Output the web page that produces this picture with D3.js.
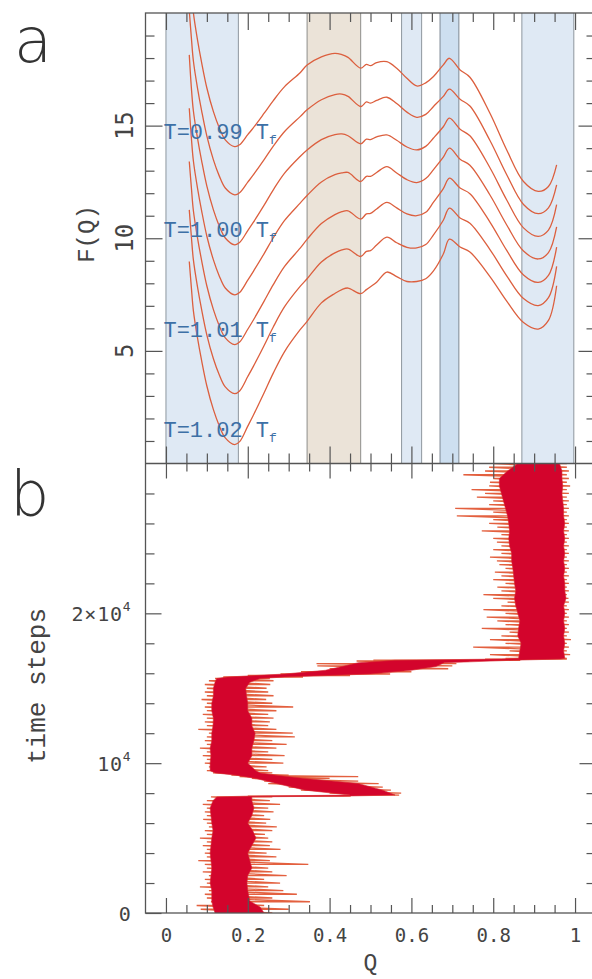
<!DOCTYPE html>
<html><head><meta charset="utf-8">
<script src="https://cdn.jsdelivr.net/npm/d3@7/dist/d3.min.js"></script>
<style>body{margin:0;background:#fff}svg{display:block}</style>
</head><body>
<svg id="chart" width="592" height="979"></svg>
<script>
// ---------- DATA ----------
// Panel a: free energy profiles F(Q), 7 temperatures (top to bottom)
const curveTemps = [0.99, 0.995, 1.00, 1.005, 1.01, 1.015, 1.02];
const labeledTemps = ["0.99", "1.00", "1.01", "1.02"];
const qGrid = [0.057,0.062,0.067,0.077,0.087,0.1,0.116,0.13,0.145,0.168,
  0.18,0.2,0.213,0.24,0.262,0.29,0.328,
  0.345,0.38,0.413,0.43,0.445,0.476,
  0.49,0.5,0.515,0.54,0.564,0.589,0.613,
  0.635,0.654,0.678,0.693,0.719,
  0.743,0.792,0.833,0.874,0.91,0.935,0.955];
const F_099 = [22.3,21.07,20.02,18.82,17.82,16.67,15.62,14.92,14.37,14.07,
  14.15,14.6,14.89,15.55,16.1,16.73,17.35,
  17.69,18.05,18.21,18.15,18.03,17.55,
  17.72,17.66,17.8,17.84,17.55,17.1,16.76,
  16.9,17.18,17.7,17.99,17.47,
  17.15,15.55,13.92,12.52,12.08,12.3,13.26];
const F_0995 = [20.1,18.93,17.88,16.68,15.68,14.53,13.48,12.78,12.23,11.93,
  12.02,12.49,12.8,13.49,14.08,14.74,15.4,
  15.7,16.15,16.38,16.4,16.3,15.85,
  16.05,16.0,16.12,16.26,15.98,15.6,15.37,
  15.5,15.85,16.3,16.62,16.17,
  15.87,14.34,12.82,11.5,11.09,11.35,12.37];
const F_100 = [18.14,16.71,15.66,14.46,13.46,12.31,11.26,10.56,10.01,9.71,
  9.81,10.34,10.69,11.47,12.14,12.89,13.63,
  13.92,14.38,14.6,14.63,14.55,14.19,
  14.4,14.38,14.5,14.59,14.35,14.05,13.92,
  14.08,14.45,14.95,15.33,14.84,
  14.55,13.13,11.7,10.46,10.08,10.36,11.49];
const F_1005 = [15.77,14.49,13.44,12.24,11.24,10.09,9.04,8.34,7.79,7.49,
  7.59,8.14,8.51,9.32,10.01,10.79,11.56,
  11.9,12.5,12.82,12.9,12.92,12.52,
  12.75,12.75,12.92,13.18,12.9,12.6,12.47,
  12.65,13.05,13.6,14.0,13.51,
  13.24,11.92,10.59,9.43,9.08,9.36,10.5];
const F_101 = [13.41,12.28,11.23,10.03,9.03,7.88,6.83,6.13,5.58,5.28,
  5.39,5.96,6.35,7.21,7.93,8.75,9.56,
  9.95,10.65,11.05,11.18,11.22,10.85,
  11.08,11.1,11.3,11.59,11.35,11.08,11.0,
  11.15,11.6,12.2,12.67,12.23,
  11.98,10.72,9.46,8.37,8.04,8.35,9.61];
const F_1015 = [11.26,10.1,9.05,7.85,6.85,5.7,4.65,3.95,3.4,3.1,
  3.22,3.86,4.29,5.24,6.05,6.96,7.86,
  8.2,8.95,9.35,9.48,9.52,9.19,
  9.42,9.45,9.7,10.05,9.8,9.6,9.57,
  9.72,10.15,10.8,11.34,10.9,
  10.67,9.5,8.33,7.32,7.01,7.36,8.75];
const F_102 = [8.97,7.84,6.79,5.59,4.59,3.44,2.39,1.69,1.14,0.84,
  0.97,1.66,2.12,3.14,4.0,4.97,5.94,
  6.31,7.13,7.55,7.72,7.79,7.54,
  7.72,7.85,8.05,8.5,8.3,8.08,8.08,
  8.2,8.55,9.3,9.96,9.61,
  9.39,8.3,7.21,6.26,5.97,6.35,7.89];
// shaded Q ranges
const blueBands = [[0, 0.177], [0.576, 0.625], [0.87, 0.997]];
const darkBlueBands = [[0.67, 0.716]];
const beigeBands = [[0.345, 0.476]];

// Panel b: trajectory extremes Q per time row (left / right excursions)
const trajT = [0,250,500,750,1000,1250,1500,1750,2000,2250,2500,2750,3000,3250,3500,3750,4000,4250,4500,4750,
  5000,5250,5500,5750,6000,6250,6500,6750,7000,7250,7500,7750,
  7800,7870,8000,8200,8400,8640,8800,8980,9100,9200,9350,
  9500,9750,10000,10250,10500,10750,11000,11250,11500,11750,12000,12250,12500,12750,13000,13250,13500,13750,
  14000,14250,14500,14750,15000,15250,15500,15650,
  15750,15850,15950,16100,16300,16500,16650,16820,16870,16950,
  17000,17250,17500,17750,18000,18250,18500,18750,19000,19250,19500,19750,20000,20250,20500,20750,21000,21250,
  21500,21750,22000,22250,22500,22750,23000,23250,23500,23750,24000,24250,24500,24750,25000,25250,25500,25750,
  26000,26250,26500,26750,27000,27250,27500,27750,28000,28250,28500,28750,29000,29250,29500,29750,30000];
const trajLo = [0.13,0.085,0.075,0.11,0.1,0.095,0.105,0.083,0.1,0.095,0.105,0.09,0.1,0.095,0.079,0.1,0.095,0.1,0.09,0.1,
  0.083,0.1,0.095,0.105,0.1,0.091,0.1,0.095,0.1,0.09,0.1,0.11,
  0.2,0.45,0.4,0.33,0.3,0.25,0.24,0.21,0.18,0.16,0.115,
  0.1,0.105,0.095,0.1,0.09,0.1,0.083,0.1,0.095,0.1,0.105,0.079,0.1,0.095,0.1,0.09,0.1,0.095,
  0.1,0.087,0.1,0.095,0.1,0.095,0.105,0.12,
  0.14,0.2,0.28,0.33,0.4,0.37,0.368,0.466,0.507,0.78,
  0.83,0.792,0.84,0.751,0.83,0.792,0.82,0.84,0.772,0.83,0.81,0.784,0.83,0.776,0.82,0.835,0.8,0.776,
  0.82,0.81,0.83,0.8,0.82,0.804,0.83,0.815,0.809,0.792,0.82,0.8,0.82,0.809,0.8,0.82,0.772,0.81,
  0.79,0.8,0.711,0.8,0.707,0.79,0.8,0.76,0.78,0.747,0.79,0.792,0.8,0.727,0.78,0.79,0.8];
const trajHi = [0.26,0.3,0.24,0.352,0.26,0.32,0.287,0.25,0.279,0.24,0.295,0.26,0.25,0.348,0.254,0.27,0.246,0.28,0.254,0.26,
  0.25,0.242,0.26,0.271,0.245,0.255,0.24,0.263,0.25,0.279,0.254,0.26,
  0.45,0.57,0.575,0.55,0.53,0.52,0.47,0.4,0.47,0.3,0.26,
  0.25,0.246,0.287,0.26,0.29,0.25,0.27,0.295,0.26,0.315,0.31,0.27,0.25,0.254,0.263,0.25,0.27,0.311,
  0.26,0.245,0.263,0.25,0.246,0.255,0.263,0.254,
  0.335,0.45,0.548,0.6,0.69,0.7,0.71,0.74,0.866,0.98,
  0.98,0.988,0.98,0.985,0.98,0.99,0.98,0.985,0.98,0.985,0.98,0.985,0.98,0.985,0.98,0.985,0.984,0.98,
  0.985,0.98,0.985,0.98,0.985,0.98,0.985,0.98,0.985,0.98,0.985,0.98,0.985,0.98,0.985,0.98,0.985,0.98,
  0.985,0.98,0.985,0.98,0.985,0.98,0.985,0.98,0.985,0.98,0.988,0.98,0.985,0.98,0.985,0.98,0.98];
// dense core envelope of the trajectory
const coreT = [0,400,800,1500,2000,2500,3000,3500,4000,4500,5000,5500,6000,6500,7000,7500,7750,
  7800,7870,8200,8640,8980,9200,9350,
  9500,10000,10500,11000,11500,12000,12500,13000,13500,14000,14500,15000,15400,15650,
  15750,15950,16200,16450,16700,16870,16950,
  17000,17500,18000,18500,19000,19500,20000,20500,21000,21500,22000,22500,23000,23500,24000,24500,25000,25500,26000,26500,27000,27500,28000,28500,29000,29500,30000];
const coreLo = [0.12,0.115,0.112,0.112,0.108,0.11,0.112,0.11,0.108,0.11,0.112,0.115,0.112,0.11,0.108,0.115,0.124,
  0.2,0.45,0.34,0.27,0.22,0.17,0.12,
  0.108,0.108,0.11,0.108,0.112,0.112,0.115,0.116,0.112,0.112,0.116,0.116,0.12,0.124,
  0.15,0.29,0.39,0.43,0.47,0.56,0.82,
  0.862,0.865,0.868,0.86,0.862,0.865,0.86,0.855,0.852,0.855,0.852,0.85,0.848,0.845,0.845,0.84,0.838,0.84,0.838,0.835,0.83,0.825,0.82,0.815,0.815,0.835,0.86];
const coreHi = [0.24,0.23,0.205,0.2,0.198,0.2,0.21,0.205,0.2,0.21,0.22,0.212,0.2,0.21,0.215,0.21,0.21,
  0.43,0.56,0.53,0.47,0.34,0.27,0.23,
  0.22,0.2,0.21,0.21,0.215,0.218,0.21,0.21,0.2,0.2,0.197,0.195,0.205,0.23,
  0.29,0.5,0.6,0.66,0.68,0.85,0.965,
  0.975,0.972,0.975,0.972,0.975,0.972,0.975,0.972,0.978,0.975,0.975,0.972,0.975,0.972,0.975,0.972,0.975,0.972,0.975,0.972,0.972,0.97,0.968,0.97,0.968,0.968,0.962];

// axis ticks / labels
const fMajor = [5, 10, 15];
const qMajor = [0, 0.2, 0.4, 0.6, 0.8, 1];
const qLabels = ["0", "0.2", "0.4", "0.6", "0.8", "1"];
const tMajor = [0, 10000, 20000];
const tLabels = [["0", ""], ["10", "4"], ["2×10", "4"]];

// ---------- DRAWING ----------
const svg = d3.select("#chart");
const L = 145.5, R = 595.5, TOP = 13, MID = 463.5, BOT = 913;
const x = d3.scaleLinear().domain([-0.05, 1.05]).range([L, R]);
const yA = d3.scaleLinear().domain([0, 20]).range([MID, TOP]);
const yB = d3.scaleLinear().domain([0, 30000]).range([BOT, MID]);
const frameCol = "#555";

// bands
const gb = svg.append("g");
function band(arr, fill, edge) {
  arr.forEach(([a, b]) => {
    gb.append("rect").attr("x", x(a)).attr("y", TOP).attr("width", x(b) - x(a)).attr("height", MID - TOP).attr("fill", fill);
    [a, b].forEach(v => gb.append("line").attr("x1", x(v)).attr("x2", x(v)).attr("y1", TOP).attr("y2", MID)
      .attr("stroke", edge).attr("stroke-width", 1));
  });
}
band(blueBands, "#dfe9f4", "#8e969e");
band(darkBlueBands, "#cddff0", "#7d8894");
band(beigeBands, "#ebe3d8", "#8e8e8a");

// curves
svg.append("clipPath").attr("id", "clipA").append("rect").attr("x", L).attr("y", TOP).attr("width", R - L).attr("height", MID - TOP);
const curves = [F_099, F_0995, F_100, F_1005, F_101, F_1015, F_102];
const line = d3.line().x((d, i) => x(qGrid[i])).y(d => yA(d)).curve(d3.curveCatmullRom.alpha(0.5));
svg.append("g").attr("clip-path", "url(#clipA)").selectAll("path").data(curves).join("path")
  .attr("d", line).attr("fill", "none").attr("stroke", "#dc5f3e").attr("stroke-width", 1.3);

// temperature labels (placed just above the unfolded minimum of curves 0,2,4,6)
labeledTemps.forEach((t, i) => {
  const c = curves[i * 2];
  const yb = yA(d3.min(c.slice(0, 17))) - 8;
  const tx = svg.append("text").attr("x", x(0) - 2.5).attr("y", yb)
    .attr("font-family", "Liberation Mono, monospace").attr("font-size", 22).attr("fill", "#3d70a6");
  tx.append("tspan").text("T=" + t + " T");
  tx.append("tspan").attr("font-size", 13).attr("dy", 5).text("f");
});

// panel b trajectory
svg.append("clipPath").attr("id", "clipB").append("rect").attr("x", L).attr("y", MID).attr("width", R - L).attr("height", BOT - MID);
const gB = svg.append("g").attr("clip-path", "url(#clipB)");
const traj = [];
trajT.forEach((t, i) => { traj.push([trajLo[i], t]); traj.push([trajHi[i], t]); });
gB.append("path").datum(traj).attr("d", d3.line().x(d => x(d[0])).y(d => yB(d[1])))
  .attr("fill", "none").attr("stroke", "#e3603f").attr("stroke-width", 1.3);
const rows = coreT.map((t, i) => ({ t, lo: coreLo[i], hi: coreHi[i] }));
const area = d3.area().y(d => yB(d.t)).x0(d => x(d.lo)).x1(d => x(d.hi)).curve(d3.curveLinear);
gB.append("path").datum(rows).attr("d", area)
  .attr("fill", "#d3042c").attr("stroke", "#d82a30").attr("stroke-width", 0.6);

// frame
svg.append("rect").attr("x", L).attr("y", TOP).attr("width", R - L).attr("height", BOT - TOP)
  .attr("fill", "none").attr("stroke", frameCol).attr("stroke-width", 1.3);
svg.append("line").attr("x1", L).attr("x2", R).attr("y1", MID).attr("y2", MID).attr("stroke", frameCol).attr("stroke-width", 1.3);

// ticks helper
function styleAxis(g) { g.select(".domain").remove(); g.selectAll(".tick line").attr("stroke", frameCol).attr("stroke-width", 1.2); }
const qMinor = d3.range(0, 21).map(i => i * 0.05).filter(v => !qMajor.some(m => Math.abs(m - v) < 1e-6));
const fMinor = d3.range(1, 20).filter(v => !fMajor.includes(v));
const tMinor = d3.range(2000, 30000, 2000).filter(v => !tMajor.includes(v));

// panel a top/bottom
[[d3.axisTop, TOP, 17, 9], [d3.axisBottom, MID, 17, 10]].forEach(([ax, yy, M, m]) => {
  svg.append("g").attr("transform", `translate(0,${yy})`).call(ax(x).tickValues(qMajor).tickSize(-M).tickFormat("")).call(styleAxis);
  svg.append("g").attr("transform", `translate(0,${yy})`).call(ax(x).tickValues(qMinor).tickSize(-m).tickFormat("")).call(styleAxis);
});
// panel b top
svg.append("g").attr("transform", `translate(0,${MID})`).call(d3.axisTop(x).tickValues(qMajor).tickSize(-15).tickFormat("")).call(styleAxis);
svg.append("g").attr("transform", `translate(0,${MID})`).call(d3.axisTop(x).tickValues(qMinor).tickSize(-8).tickFormat("")).call(styleAxis);
// panel b bottom with labels
const gx = svg.append("g").attr("transform", `translate(0,${BOT})`)
  .call(d3.axisBottom(x).tickValues(qMajor).tickSize(-15).tickPadding(16).tickFormat((d, i) => qLabels[i])).call(styleAxis);
gx.selectAll("text").attr("font-family", "DejaVu Sans Mono, monospace").attr("font-size", 19).attr("fill", "#444");
svg.append("g").attr("transform", `translate(0,${BOT})`).call(d3.axisBottom(x).tickValues(qMinor).tickSize(-8).tickFormat("")).call(styleAxis);

// left / right ticks
[[d3.axisLeft, L], [d3.axisRight, R]].forEach(([ax, xx]) => {
  svg.append("g").attr("transform", `translate(${xx},0)`).call(ax(yA).tickValues(fMajor).tickSize(-17).tickFormat("")).call(styleAxis);
  svg.append("g").attr("transform", `translate(${xx},0)`).call(ax(yA).tickValues(fMinor).tickSize(-9).tickFormat("")).call(styleAxis);
  svg.append("g").attr("transform", `translate(${xx},0)`).call(ax(yB).tickValues(tMinor).tickSize(-9).tickFormat("")).call(styleAxis);
});
svg.append("g").attr("transform", `translate(${R},0)`).call(d3.axisRight(yB).tickValues(tMajor.slice(1)).tickSize(-16).tickFormat("")).call(styleAxis);
const gy = svg.append("g").attr("transform", `translate(${L},0)`)
  .call(d3.axisLeft(yB).tickValues(tMajor).tickSize(-16).tickPadding(14).tickFormat("")).call(styleAxis);
gy.selectAll(".tick").each(function (d, i) {
  const t = d3.select(this).select("text").attr("font-family", "DejaVu Sans Mono, monospace").attr("font-size", 20)
    .attr("letter-spacing", 0.8).attr("fill", "#444").attr("dy", "0.36em");
  t.append("tspan").text(tLabels[i][0]);
  if (tLabels[i][1]) t.append("tspan").attr("font-size", 13).attr("dy", "-0.75em").text(tLabels[i][1]);
});

// panel a y labels (rotated)
fMajor.forEach(v => {
  svg.append("text").attr("transform", `translate(133,${yA(v)}) rotate(-90)`).attr("text-anchor", "middle")
    .attr("font-family", "DejaVu Sans Mono, monospace").attr("font-size", 24).attr("fill", "#444").text(v);
});

// axis titles
svg.append("text").attr("transform", "translate(94,234) rotate(-90)").attr("text-anchor", "middle")
  .attr("font-family", "Liberation Mono, monospace").attr("font-size", 24).attr("fill", "#444").text("F(Q)");
svg.append("text").attr("transform", "translate(45,686) rotate(-90)").attr("text-anchor", "middle")
  .attr("font-family", "Liberation Mono, monospace").attr("font-size", 26).attr("fill", "#444").text("time steps");
svg.append("text").attr("x", x(0.5)).attr("y", 970).attr("text-anchor", "middle")
  .attr("font-family", "Liberation Mono, monospace").attr("font-size", 23).attr("fill", "#444").text("Q");

// panel letters
svg.append("text").attr("x", 14).attr("y", 62).attr("font-family", "DejaVu Sans, sans-serif").attr("font-weight", 200)
  .attr("font-size", 62).attr("fill", "#333").text("a");
svg.append("text").attr("x", 10).attr("y", 515).attr("font-family", "DejaVu Sans, sans-serif").attr("font-weight", 200)
  .attr("font-size", 62).attr("fill", "#333").text("b");
</script>
</body></html>
